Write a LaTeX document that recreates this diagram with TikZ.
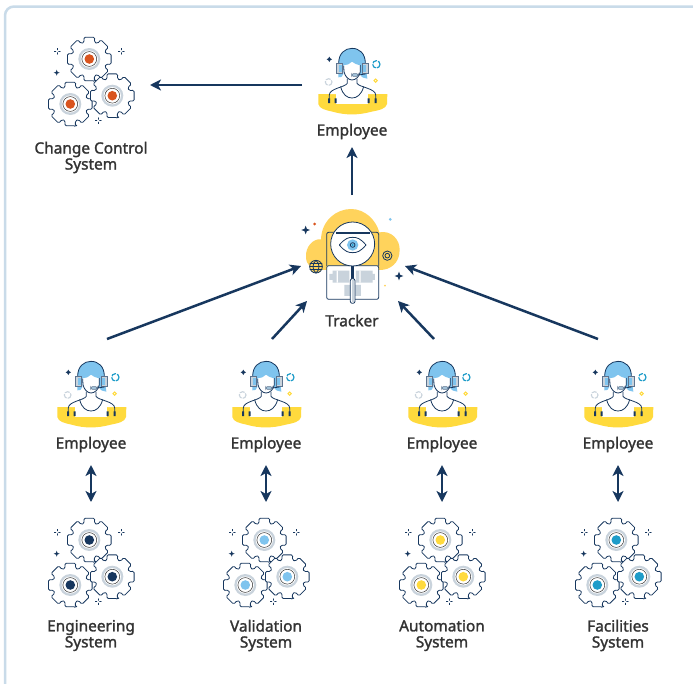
\documentclass[tikz,border=0pt]{standalone}
\usepackage{fontspec}
\setmainfont[FakeBold=1.6]{Noto Sans}
\usetikzlibrary{calc,arrows.meta}
\definecolor{navy}{HTML}{17375E}
\definecolor{sun}{HTML}{FFDA3D}
\definecolor{cloudy}{HTML}{FFD35C}
\definecolor{sky}{HTML}{7FC4EE}
\definecolor{rust}{HTML}{D9541E}
\definecolor{teal}{HTML}{1E9CC9}
\definecolor{mist}{HTML}{C9D3DC}
\definecolor{frameblue}{HTML}{C9DBE9}
\definecolor{ink}{HTML}{333333}
\tikzset{
  x=1pt,y=-1pt,
  ln/.style={draw=navy,line width=.8pt,line join=round,line cap=round},
  thin ln/.style={draw=navy,line width=.45pt,line cap=round},
  flow/.style={draw=navy,line width=2.5pt,-{Stealth[length=11pt,width=11pt,inset=3pt]}},
  flowboth/.style={draw=navy,line width=2.5pt,{Stealth[length=11pt,width=11pt,inset=3pt]}-{Stealth[length=11pt,width=11pt,inset=3pt]}},
  lab/.style={font=\fontsize{15.4}{16}\selectfont,text=ink,align=center,inner sep=0pt},
  port/.style={draw=none,fill=none,inner sep=0pt,outer sep=0pt,rectangle},
  pics/sparkle/.style={code={
    \draw[thin ln] (0,-3)--(0,-1.3) (0,1.3)--(0,3) (-3,0)--(-1.3,0) (1.3,0)--(3,0);}},
  pics/star/.style={code={
    \fill[navy] (0,-3) -- (.8,-.8) -- (3,0) -- (.8,.8) -- (0,3) -- (-.8,.8) -- (-3,0) -- (-.8,-.8) -- cycle;}},
  pics/onegear/.style={code={
    \draw[ln,fill=white,rounded corners=1.4pt] (77:22.5)
      \foreach \a in {90,135,...,405}{
        -- ({\a-14}:22.5) -- ({\a+14}:22.5) -- ({\a+17}:17.5) -- ({\a+28}:17.5)
      } -- cycle;
    \fill[mist] (0,0) circle (11);
    \fill[white] (0,0) circle (8.6);
    \draw[draw=ink,line width=.5pt] (0,0) circle (7.4);
    \fill[#1] (0,0) circle (4.8);}},
  pics/gears/.style={code={
    \path (-1.7,-22) pic {onegear=#1};
    \path (-20.7,23) pic {onegear=#1};
    \path (21.3,14.7) pic {onegear=#1};
    \path (-33.7,-29.7) pic {sparkle};
    \path (30.3,-29.7) pic {sparkle};
    \path (-34.3,-8.3) pic {star};
    \path (7.3,39.7) pic {sparkle};}},
  pics/person/.style={code={
    \begin{scope}[x=.3333pt,y=-.3333pt,shift={(-186,-156)}]
      \fill[sun] (85,192) -- (118,192) -- (232,192) -- (292,192) -- (291,222)
        .. controls (288,236) and (270,240) .. (245,245)
        .. controls (205,256) and (165,256) .. (128,245)
        .. controls (105,240) and (88,236) .. (85,222) -- cycle;
      \fill[white] (138,192) -- (234,192) -- (234,222) -- (138,222) -- cycle;
      \fill[white] (118,192) .. controls (118,180) and (135,172) .. (152,166) -- (220,166)
        .. controls (240,172) and (257,180) .. (257,192) -- cycle;
      \fill[sky] (145,142) -- (146,95) .. controls (146,70) and (165,55) .. (186,55)
        .. controls (208,55) and (226,70) .. (226,95) -- (232,146)
        .. controls (222,146) and (214,142) .. (210,132) -- (210,106)
        .. controls (200,104) and (192,100) .. (186,95)
        .. controls (180,102) and (170,106) .. (160,106) -- (160,132)
        .. controls (158,140) and (152,144) .. (145,142) -- cycle;
      \draw[ln] (146,100) .. controls (146,70) and (165,55) .. (186,55)
        .. controls (208,55) and (226,70) .. (226,100);
      \draw[ln] (161,108) -- (162,125) .. controls (165,140) and (176,150) .. (186,150)
        .. controls (197,150) and (208,140) .. (211,125) -- (211,106);
      \draw[ln] (172,147) -- (172,160) .. controls (165,172) and (118,175) .. (118,195) -- (118,215);
      \draw[ln] (201,147) -- (201,160) .. controls (208,172) and (257,175) .. (257,195) -- (257,215);
      \draw[ln] (152,170) .. controls (158,195) and (172,204) .. (186,204)
        .. controls (200,204) and (214,195) .. (221,170);
      \draw[draw=navy!70!white,line width=.7pt,fill=mist] (140,100) rectangle (158,130);
      \fill[sky] (146,104) rectangle (155,126);
      \draw[draw=navy!70!white,line width=.7pt,fill=mist] (216,100) rectangle (236,130);
      \fill[sky] (219,104) rectangle (229,126);
      \draw[draw=navy!70!white,line width=.7pt,fill=sky!40!mist,rounded corners=2pt] (185,131) rectangle (205,139);
      \draw[ln] (205,135) -- (226,132);
      \fill[navy] (114,205) rectangle (120,219) (134,205) rectangle (140,219)
        (233,205) rectangle (239,219) (254,205) rectangle (260,219);
      \fill[navy] (118,80) -- (121,85) -- (126,88) -- (121,91) -- (118,96) -- (115,91) -- (110,88) -- (115,85) -- cycle;
      \draw[draw=teal,line width=1.2pt,dash pattern=on 5pt off 1.2pt] (259,103) circle (11);
      \draw[draw=mist,line width=1.1pt,dash pattern=on 5pt off 1.2pt] (116,156) circle (10);
      \draw[draw=sun,line width=1pt] (257,152) circle (5);
    \end{scope}}},
}
\begin{document}
\begin{tikzpicture}
\useasboundingbox (0,0) rectangle (693,683);
\fill[white] (0,0) rectangle (693,683);
\draw[draw=frameblue,line width=2.5pt,rounded corners=9pt] (5,690) -- (5,6.5) -- (700,6.5);

% connector boxes (invisible)
\node[port,minimum width=118pt,minimum height=96pt] (ccg) at (91,85) {};
\node[port,minimum width=100pt,minimum height=124pt] (emp0) at (352,85) {};
\node[port,minimum width=104pt,minimum height=142pt] (trk) at (353,266) {};
\foreach \nm/\cx in {1/91,2/266,3/442,4/618}{
  \node[port,minimum width=100pt,minimum height=126pt] (emp\nm) at (\cx,402) {};
  \node[port,minimum width=100pt,minimum height=130pt] (sys\nm) at (\cx,567) {};
}

% gears
\path (91,81) pic {gears=rust};
\path (91,562) pic {gears=navy};
\path (266,562) pic {gears=sky};
\path (442,562) pic {gears=sun};
\path (618,562) pic {gears=teal};

% people
\path (352,82) pic {person};
\path (91,395) pic {person};
\path (266,395) pic {person};
\path (442,395) pic {person};
\path (618,395) pic {person};

% tracker
\begin{scope}[shift={(290,200)},x=.3333pt,y=-.3333pt]
  \fill[cloudy] (48,170) .. controls (46,140) and (70,115) .. (93,118)
    .. controls (95,60) and (140,27) .. (183,27)
    .. controls (225,27) and (258,60) .. (268,97)
    .. controls (305,90) and (330,120) .. (329,150)
    .. controls (329,190) and (300,210) .. (270,210) -- (90,210)
    .. controls (65,210) and (48,195) .. (48,170) -- cycle;
  \draw[ln,fill=white,rounded corners=2pt] (110,197) -- (110,298) -- (266,298) -- (266,197) -- cycle;
  \draw[ln,rounded corners=2pt] (110,197) -- (110,97) -- (266,97) -- (266,197);
  \fill[mist] (118,222) rectangle (128,240) (128,212) rectangle (178,248)
    (198,212) rectangle (248,248) (248,222) rectangle (255,240)
    (163,255) rectangle (213,288);
  \fill[white] (140,212) rectangle (144,248) (208,212) rectangle (212,248);
  \draw[ln,fill=white] (188,132) circle (66);
  \draw[draw=navy,line width=1.5pt] (138,99) -- (240,99);
  \draw[ln] (148,135) .. controls (165,115) and (175,112) .. (188,112)
    .. controls (201,112) and (211,115) .. (228,135)
    .. controls (211,155) and (201,158) .. (188,158)
    .. controls (175,158) and (165,155) .. (148,135) -- cycle;
  \fill[sky] (188,135) circle (17);
  \draw[ln] (188,135) circle (7);
  \fill[teal] (188,135) circle (3);
  \draw[draw=navy,line width=2.4pt] (188,198) -- (188,236);
  \draw[ln,fill=white,rounded corners=2pt] (181,236) rectangle (195,310);
  \fill[mist] (185,240) rectangle (191,306);
  \draw[ln,fill=cloudy] (78,200) circle (19);
  \draw[ln] (59,200) -- (97,200) (60,191) -- (96,191) (60,209) -- (96,209);
  \draw[ln] (78,181) .. controls (66,190) and (66,210) .. (78,219) .. controls (90,210) and (90,190) .. (78,181);
  \draw[ln] (292,167) circle (14);
  \draw[ln] (292,167) circle (7);
  \fill[rust] (74,72) circle (4.5);
  \fill[sky] (301,58) circle (4.5);
  \fill[cloudy] (285,257) circle (3);
  \path (47,90) pic[scale=4.4] {star};
  \path (327,228) pic[scale=4.4] {star};
\end{scope}

% labels
\node[lab] (lcc) at (91,157.5) {Change Control\\System};
\node[lab] (l0) at (352,131.5) {Employee};
\node[lab] (ltr) at (352,320.5) {Tracker};
\node[lab] (l1) at (91,444.5) {Employee};
\node[lab] (l2) at (266,444.5) {Employee};
\node[lab] (l3) at (442,444.5) {Employee};
\node[lab] (l4) at (618,444.5) {Employee};
\node[lab] (s1) at (91,635.5) {Engineering\\System};
\node[lab] (s2) at (266,635.5) {Validation\\System};
\node[lab] (s3) at (442,635.5) {Automation\\System};
\node[lab] (s4) at (618,635.5) {Facilities\\System};

% connectors
\draw[flow] (emp0.west) -- (ccg.east);
\draw[flow] ($(trk.north)+(-1,0)$) -- (emp0.south);
\draw[flow] ($(emp1.north)+(16,0)$) -- (trk.west);
\draw[flow] ($(emp2.north)+(6,0)$) -- ($(trk.center)+(-46,35)$);
\draw[flow] ($(emp3.north)+(-8,0)$) -- ($(trk.center)+(45,35)$);
\draw[flow] ($(emp4.north)+(-20,0)$) -- (trk.east);
\foreach \nm in {1,2,3,4}{
  \draw[flowboth] (emp\nm.south) -- (sys\nm.north);
}
\end{tikzpicture}
\end{document}
